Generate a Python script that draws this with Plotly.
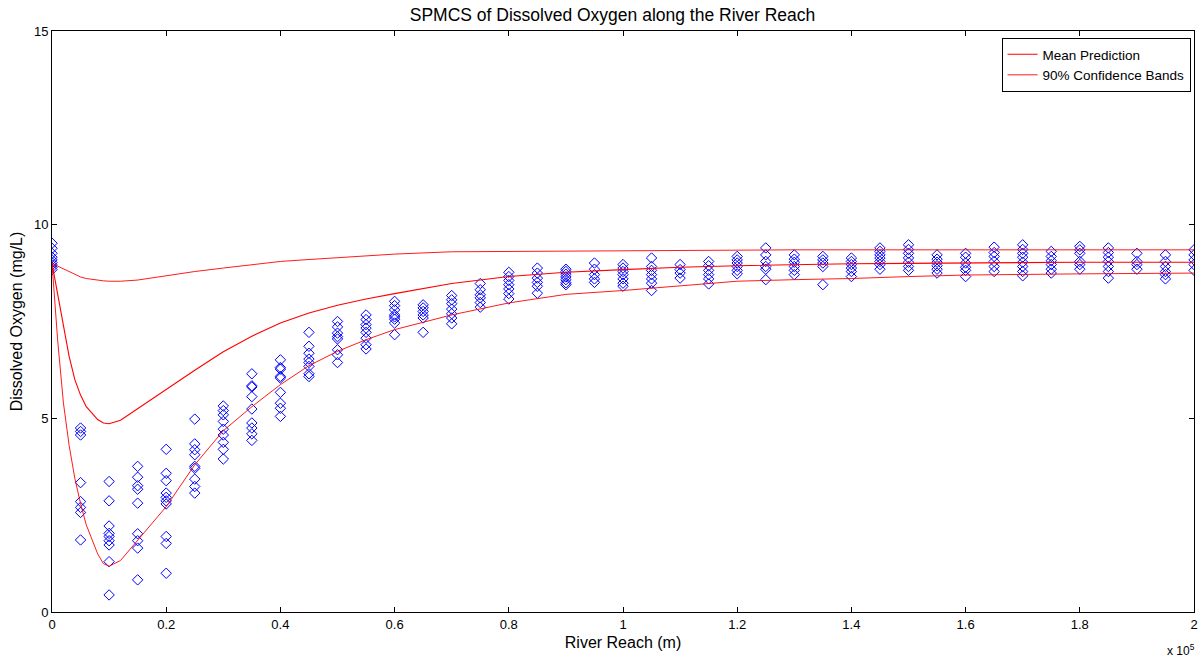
import plotly.graph_objects as go

# observed DO samples, one column per reach station (m)
stations = [0, 5000, 10000, 15000, 20000, 25000, 30000, 35000, 40000, 45000,
            50000, 55000, 60000, 65000, 70000, 75000, 80000, 85000, 90000, 95000,
            100000, 105000, 110000, 115000, 120000, 125000, 130000, 135000, 140000, 145000,
            150000, 155000, 160000, 165000, 170000, 175000, 180000, 185000, 190000, 195000,
            200000]
do_samples = [
    [9.52, 9.39, 9.26, 9.16, 9.09, 9.02, 8.96, 8.90, 8.84],
    [4.75, 4.66, 4.57, 3.34, 2.85, 2.70, 2.57, 1.86],
    [3.37, 2.87, 2.22, 2.03, 1.95, 1.84, 1.73, 1.30, 0.44],
    [3.76, 3.48, 3.26, 3.17, 2.81, 2.02, 1.84, 1.65, 0.83],
    [4.20, 3.58, 3.39, 3.07, 2.96, 2.87, 2.79, 1.95, 1.77, 1.00],
    [4.98, 4.34, 4.19, 4.06, 3.76, 3.71, 3.43, 3.24, 3.07],
    [5.32, 5.20, 5.09, 4.92, 4.72, 4.57, 4.38, 4.20, 3.95],
    [6.15, 5.84, 5.81, 5.56, 5.24, 4.88, 4.75, 4.60, 4.43],
    [6.51, 6.31, 6.27, 6.08, 6.04, 5.67, 5.39, 5.26, 5.05],
    [7.22, 6.86, 6.68, 6.53, 6.44, 6.34, 6.15, 6.08],
    [7.50, 7.36, 7.20, 7.11, 7.05, 6.77, 6.64, 6.44],
    [7.67, 7.55, 7.42, 7.33, 7.22, 7.07, 6.90, 6.79],
    [8.02, 7.91, 7.80, 7.67, 7.62, 7.56, 7.46, 7.16],
    [7.93, 7.85, 7.76, 7.67, 7.59, 7.22],
    [8.17, 8.06, 7.96, 7.82, 7.70, 7.59, 7.44],
    [8.48, 8.32, 8.19, 8.11, 7.99, 7.87],
    [8.77, 8.66, 8.56, 8.45, 8.34, 8.22, 8.08],
    [8.88, 8.75, 8.62, 8.51, 8.41, 8.23],
    [8.85, 8.79, 8.72, 8.65, 8.58, 8.50, 8.45],
    [9.01, 8.85, 8.71, 8.60, 8.51],
    [8.97, 8.88, 8.79, 8.71, 8.60, 8.49, 8.41],
    [9.14, 8.92, 8.82, 8.71, 8.60, 8.49, 8.30],
    [8.97, 8.84, 8.75, 8.62],
    [9.05, 8.94, 8.82, 8.71, 8.60, 8.47],
    [9.18, 9.09, 9.01, 8.92, 8.82, 8.73],
    [9.40, 9.22, 9.05, 8.92, 8.85, 8.58],
    [9.22, 9.11, 9.03, 8.92, 8.82, 8.71],
    [9.18, 9.09, 9.01, 8.92, 8.45],
    [9.14, 9.05, 8.97, 8.88, 8.79, 8.66],
    [9.40, 9.31, 9.22, 9.14, 9.05, 8.97, 8.85],
    [9.48, 9.36, 9.26, 9.14, 9.03, 8.92, 8.82],
    [9.22, 9.11, 9.03, 8.94, 8.85, 8.75],
    [9.26, 9.16, 9.01, 8.90, 8.82, 8.66],
    [9.42, 9.28, 9.18, 9.05, 8.92, 8.79],
    [9.48, 9.36, 9.26, 9.16, 9.03, 8.92, 8.79, 8.68],
    [9.31, 9.18, 9.07, 8.97, 8.85, 8.75],
    [9.44, 9.35, 9.26, 9.05, 8.97, 8.85],
    [9.40, 9.28, 9.16, 9.05, 8.92, 8.79, 8.62],
    [9.26, 9.05, 8.97, 8.85],
    [9.22, 9.05, 8.92, 8.79, 8.71, 8.60],
    [9.35, 9.22, 9.09, 8.97, 8.82],
]

# prediction curves
reach = [0, 1000, 2000, 3000, 4000, 5000, 6000, 8000, 9000, 10000, 12000, 15000,
         20000, 25000, 30000, 35000, 40000, 45000, 50000, 55000, 60000, 70000,
         80000, 90000, 100000, 110000, 120000, 130000, 140000, 150000, 160000,
         180000, 200000]
mean_pred = [9.0, 8.2, 7.4, 6.6, 6.0, 5.6, 5.3, 4.97, 4.88, 4.86, 4.95, 5.25,
             5.74, 6.24, 6.72, 7.12, 7.46, 7.72, 7.92, 8.08, 8.22, 8.48,
             8.66, 8.77, 8.84, 8.9, 8.94, 8.97, 8.99, 9.0, 9.01,
             9.03, 9.03]
lower_band = [9.0, 7.0, 5.4, 4.3, 3.45, 2.8, 2.25, 1.5, 1.25, 1.18, 1.33, 1.86,
              2.72, 3.8, 4.68, 5.3, 5.87, 6.36, 6.73, 7.03, 7.29, 7.67,
              7.98, 8.2, 8.3, 8.42, 8.54, 8.58, 8.61, 8.66, 8.7,
              8.73, 8.75]
upper_band = [9.0, 8.93, 8.84, 8.77, 8.7, 8.65, 8.61, 8.56, 8.55, 8.54, 8.54, 8.57,
              8.68, 8.79, 8.88, 8.97, 9.05, 9.1, 9.15, 9.2, 9.24, 9.3,
              9.31, 9.32, 9.33, 9.34, 9.35, 9.35, 9.35, 9.35, 9.35,
              9.35, 9.35]

xs, ys = [], []
for s, vals in zip(stations, do_samples):
    xs += [s] * len(vals)
    ys += vals

fig = go.Figure()
fig.add_trace(go.Scatter(x=xs, y=ys, mode="markers", showlegend=False,
                         marker=dict(symbol="diamond-open", size=8, color="#0000ff",
                                     line=dict(width=1))))
fig.add_trace(go.Scatter(x=reach, y=mean_pred, mode="lines", name="Mean Prediction",
                         line=dict(color="#ff0000", width=1.1)))
fig.add_trace(go.Scatter(x=reach, y=upper_band, mode="lines", name="90% Confidence Bands",
                         line=dict(color="#ff0000", width=0.9), legendgroup="band"))
fig.add_trace(go.Scatter(x=reach, y=lower_band, mode="lines", showlegend=False,
                         line=dict(color="#ff0000", width=0.9), legendgroup="band"))

tickv = [i * 20000 for i in range(11)]
tickt = ["0", "0.2", "0.4", "0.6", "0.8", "1", "1.2", "1.4", "1.6", "1.8", "2"]

fig.update_layout(
    width=1201, height=660,
    paper_bgcolor="white", plot_bgcolor="white",
    margin=dict(l=52, r=7, t=31, b=48),
    font=dict(family="Liberation Sans, Arial", size=13, color="black"),
    title=dict(text="SPMCS of Dissolved Oxygen along the River Reach",
               x=0.51, xanchor="center", yref="container", y=0.978, yanchor="middle",
               font=dict(size=17.5)),
    showlegend=True,
    legend=dict(x=0.997, y=0.988, xanchor="right", yanchor="top",
                bgcolor="white", bordercolor="black", borderwidth=1,
                font=dict(size=13.5), tracegroupgap=0),
)
fig.update_xaxes(range=[0, 200000], tickvals=tickv, ticktext=tickt,
                 automargin=False, ticklabeloverflow="allow",
                 showgrid=False, zeroline=False, showline=True, linecolor="black",
                 mirror="ticks", ticks="inside", ticklen=5, tickcolor="black",
                 title=dict(text="River Reach (m)", standoff=6, font=dict(size=16)))
fig.update_yaxes(range=[0, 15], tickvals=[0, 5, 10, 15],
                 automargin=False, ticklabeloverflow="allow",
                 showgrid=False, zeroline=False, showline=True, linecolor="black",
                 mirror="ticks", ticks="inside", ticklen=5, tickcolor="black",
                 title=dict(text="Dissolved Oxygen (mg/L)", standoff=7, font=dict(size=16)))
fig.add_annotation(text="x 10<sup>5</sup>", xref="paper", yref="paper",
                   x=1.003, y=-0.066, xanchor="right", yanchor="middle",
                   showarrow=False, font=dict(size=12))

# drop the default page margin so the figure sits at the window corner
fig.write_html("out.html", config={"displayModeBar": False},
               post_script="document.body.style.margin='0';")
